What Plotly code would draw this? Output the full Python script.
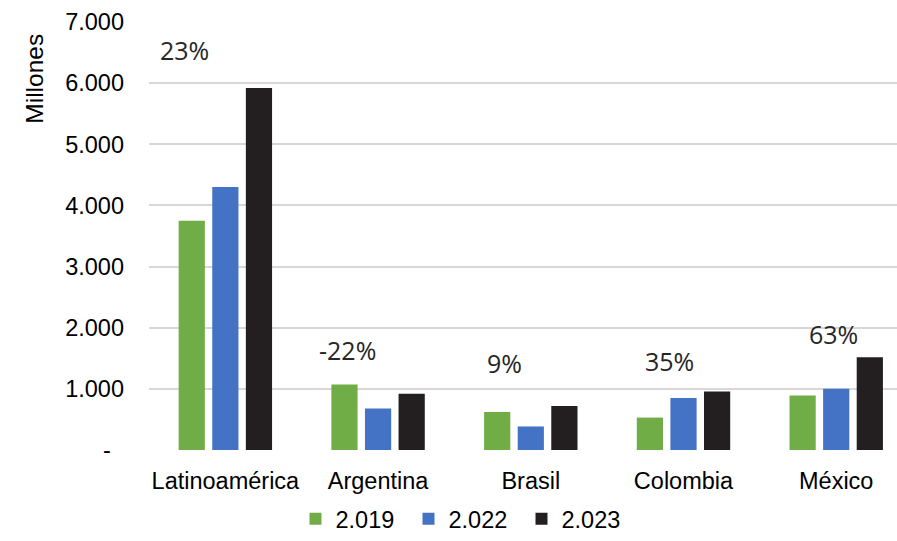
import plotly.graph_objects as go

categories = ["Latinoamérica", "Argentina", "Brasil", "Colombia", "México"]
series_names = ["2.019", "2.022", "2.023"]
values_2019 = [3750, 1070, 620, 530, 890]
values_2022 = [4300, 680, 385, 850, 1000]
values_2023 = [5920, 920, 720, 955, 1515]
pct_labels = ["23%", "-22%", "9%", "35%", "63%"]
y_tickvals = [0, 1000, 2000, 3000, 4000, 5000, 6000, 7000]
y_ticktext = ["-\u00a0\u00a0", "1.000", "2.000", "3.000", "4.000", "5.000", "6.000", "7.000"]

colors = ["#70AD47", "#4472C4", "#231F20"]

# label placement (style): x offset in category units, y in data units
pct_dx = [-0.27, -0.20, -0.17, -0.09, -0.02]
pct_y = [6540, 1640, 1420, 1450, 1890]

xpos = list(range(len(categories)))

W, H = 897, 541
L, R, T, B = 149, 0, 22.3, 90.5

fig = go.Figure()
for name, vals, col in zip(series_names, [values_2019, values_2022, values_2023], colors):
    fig.add_trace(go.Bar(x=xpos, y=vals, name=name, marker=dict(color=col, line=dict(width=0))))

for i, lab in enumerate(pct_labels):
    fig.add_annotation(x=xpos[i] + pct_dx[i], y=pct_y[i], xref="x", yref="y", text=lab,
                       showarrow=False, font=dict(family="Open Sans", size=25, color="#262626"),
                       xanchor="center", yanchor="middle")

fig.add_annotation(x=(35 - L) / (W - L), y=(H - B - 79) / (H - B - T), xref="paper", yref="paper",
                   text="Millones", textangle=-90, showarrow=False,
                   font=dict(family="Liberation Sans, Arial", size=24.5, color="#000000"),
                   xanchor="center", yanchor="middle")

fig.update_layout(
    width=W, height=H,
    margin=dict(l=L, r=R, t=T, b=B, pad=0, autoexpand=False),
    paper_bgcolor="white", plot_bgcolor="white",
    barmode="group", bargap=0.34, bargroupgap=0.22,
    font=dict(family="Liberation Sans, Arial", size=23.5, color="#000000"),
    showlegend=True,
    legend=dict(orientation="h", x=465 / W, xanchor="center", xref="container",
                y=-6 / H, yref="container", yanchor="bottom",
                entrywidth=68, entrywidthmode="pixels",
                font=dict(size=23.5), itemclick=False, traceorder="normal"),
)
fig.update_xaxes(tickmode="array", tickvals=xpos, ticktext=categories, range=[-0.5, 4.398],
                 showgrid=False, zeroline=False, showline=False, ticks="",
                 tickfont=dict(size=23.5), ticklabelstandoff=14)
fig.update_yaxes(range=[0, 7000], tickmode="array", tickvals=y_tickvals, ticktext=y_ticktext,
                 showgrid=True, gridcolor="#DAD6D7", gridwidth=1.5, zeroline=False, showline=False,
                 ticks="", tickfont=dict(size=23.5), ticklabelstandoff=24)

fig.write_html("out.html", config={"displayModeBar": False},
               post_script="document.body.style.margin='0';")
